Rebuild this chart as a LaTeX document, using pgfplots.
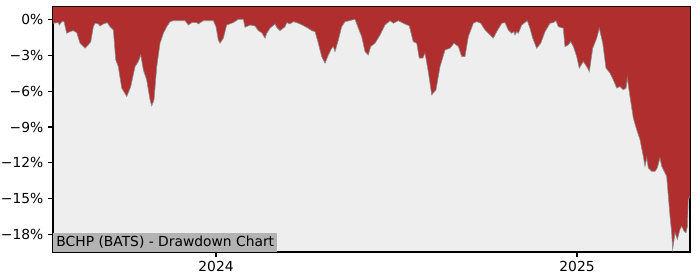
\documentclass[border=0pt]{standalone}
\usepackage{pgfplots}
\pgfplotsset{compat=1.18}
\usepackage{pgfplotstable}
\usepgfplotslibrary{fillbetween}
\usepackage{fontspec}
\setmainfont{DejaVu Sans}
\definecolor{ddred}{HTML}{B02E2E}
\definecolor{bggray}{HTML}{EEEEEE}
\definecolor{edgegray}{HTML}{8C8C8C}
\definecolor{titlegray}{HTML}{B3B3B3}
\pgfplotstableread{
d v
-165.3 -0.33
-159.9 -0.28
-158.9 -0.48
-156.4 -0.20
-154.1 -0.20
-151.4 -1.17
-148.0 -1.03
-144.7 -0.95
-141.2 -1.12
-137.9 -2.00
-132.8 -2.42
-129.5 -2.14
-127.0 -1.87
-124.4 -0.62
-122.7 -0.33
-119.3 -0.39
-117.6 -0.56
-114.3 -0.39
-110.2 -0.28
-107.5 -0.62
-104.1 -0.89
-101.7 -3.39
-99.1 -3.95
-95.6 -5.75
-90.5 -6.45
-86.5 -5.62
-82.1 -3.95
-78.8 -3.53
-76.3 -2.98
-73.7 -4.22
-70.3 -5.06
-66.9 -6.73
-65.2 -7.23
-62.9 -6.73
-60.1 -3.95
-56.8 -2.00
-53.4 -1.17
-50.0 -0.62
-46.6 -0.20
-43.3 -0.12
-31.4 -0.12
-28.1 -0.48
-24.6 -0.28
-19.6 -0.28
-17.9 -0.39
-12.9 -0.12
-2.7 -0.12
0.0 -0.62
2.3 -1.73
4.1 -2.00
7.4 -1.58
10.8 -0.48
17.5 -0.28
22.6 0.00
27.7 0.00
29.4 -0.67
34.5 -0.48
39.5 -0.56
42.9 -0.95
46.3 -1.12
49.7 -1.58
51.4 -1.17
54.7 -0.75
59.8 -0.39
61.5 -0.67
64.9 -0.95
70.0 -0.62
71.7 -0.28
75.0 -0.39
78.4 -0.20
81.8 -0.28
85.2 -0.39
89.2 -0.56
93.6 -0.75
97.0 -0.95
100.4 -1.03
103.7 -2.00
107.2 -3.12
110.5 -3.67
113.9 -2.98
117.3 -2.42
118.9 -2.28
120.6 -2.70
124.0 -1.73
127.4 -0.62
130.8 -0.20
135.1 -0.12
140.9 0.00
144.3 -0.75
147.7 -1.45
151.1 -2.70
154.4 -2.98
156.8 -2.28
161.2 -2.00
166.3 -1.31
171.3 -0.48
176.4 -0.12
179.8 -0.33
184.8 -0.12
189.9 -0.33
196.0 -0.56
200.0 -1.87
203.5 -2.00
206.1 -3.25
209.6 -3.25
211.9 -2.83
215.2 -4.37
218.7 -6.31
223.0 -5.89
227.1 -3.95
232.2 -2.56
237.2 -2.42
241.3 -2.00
245.7 -2.28
249.1 -3.12
252.4 -3.12
255.8 -1.45
260.9 -0.33
264.3 -0.20
268.4 -0.33
272.7 -0.89
277.8 -1.31
281.1 -1.58
284.6 -1.03
289.7 -0.33
293.0 -0.28
296.3 -0.89
299.8 -1.17
302.1 -1.03
303.1 -1.31
304.9 -1.03
306.5 -1.17
309.9 -0.48
315.6 -0.12
318.3 -0.75
321.1 -1.58
325.1 -2.42
329.2 -2.00
333.6 -1.03
338.6 -0.33
342.0 -0.28
344.7 -0.12
347.0 -0.62
352.1 -0.75
353.8 -2.28
357.2 -2.14
359.6 -1.87
362.3 -2.28
365.7 -3.12
368.3 -4.08
372.4 -3.53
375.8 -3.95
378.5 -4.37
381.9 -2.42
386.0 -1.58
388.6 -0.75
392.1 -2.00
395.4 -4.08
399.5 -4.50
402.8 -5.06
406.3 -5.75
409.6 -5.62
412.9 -5.89
415.7 -5.75
417.0 -4.92
419.7 -6.45
423.1 -8.25
426.5 -9.22
429.9 -10.06
433.2 -11.45
434.9 -12.28
436.7 -11.58
438.3 -12.42
441.7 -12.70
445.1 -12.70
447.4 -12.42
450.1 -11.58
451.9 -12.28
455.2 -12.83
456.9 -13.12
458.6 -14.78
460.3 -16.45
462.0 -17.83
463.0 -19.22
465.4 -17.83
467.7 -18.39
470.4 -17.56
472.1 -17.28
474.5 -17.70
476.5 -17.83
478.0 -17.28
478.8 -15.06
480.6 -14.80
}\dd
\begin{document}
\begin{tikzpicture}
\begin{axis}[
  scale only axis,
  width=460.4pt, height=177.1pt,
  xmin=-165.3, xmax=480.6,
  ymin=-19.44, ymax=1.03,
  axis background/.style={fill=bggray},
  axis line style={line width=0.8pt},
  tick style={black, line width=0.8pt},
  tick align=outside,
  major tick length=3.5pt,
  xtick={0,366}, xticklabels={2024,2025},
  ytick={-18,-15,-12,-9,-6,-3,0},
  yticklabels={−18\%,−15\%,−12\%,−9\%,−6\%,−3\%,0\%},
  tick label style={font=\fontsize{10}{12}\selectfont},
  xtick pos=bottom, ytick pos=left,
  minor tick num=0,
]
\addplot[draw=none, name path=dd] table[x=d, y=v] {\dd};
\addplot[draw=none, name path=top] coordinates {(-165.3,1.03) (480.6,1.03)};
\addplot[fill=ddred, draw=none] fill between[of=dd and top];
\addplot[draw=edgegray, line width=0.45pt] table[x=d, y=v] {\dd};
\node[anchor=south west, fill=titlegray, inner xsep=2.3pt, inner ysep=0pt,
  text height=9.7pt, text depth=4pt, font=\fontsize{10}{12}\selectfont]
  at (rel axis cs:0,0) {BCHP (BATS) - Drawdown Chart};
\end{axis}
\pgfresetboundingbox
\path (current axis.south west) ++(-38.3pt,-20.24pt) rectangle ++(505.9pt,202.36pt);
\end{tikzpicture}
\end{document}
